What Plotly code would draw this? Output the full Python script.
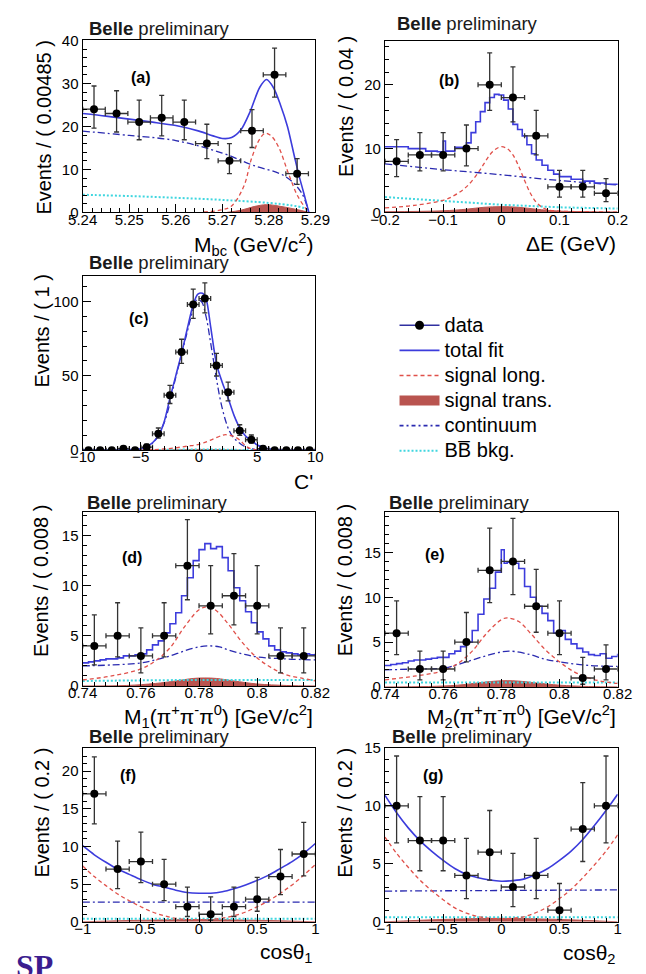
import plotly.graph_objects as go

# ================= DATA =================
# (a) Mbc
A_X = [5.24243, 5.24728, 5.25213, 5.25698, 5.26183, 5.26668, 5.27153, 5.27638, 5.28123, 5.28608]
A_Y = [24, 23, 21, 22, 21, 16, 12, 19, 32, 9]
A_EUP = [5.4, 5.3, 5.1, 5.2, 5.1, 4.5, 4.0, 4.9, 6.2, 3.5]
A_EDN = [4.4, 4.3, 4.1, 4.2, 4.1, 3.5, 3.0, 3.9, 5.2, 2.5]
A_BIN = 0.00485
A_FIT_X = [5.240, 5.245, 5.250, 5.255, 5.260, 5.265, 5.268, 5.270, 5.272, 5.274, 5.276, 5.278, 5.2795, 5.281, 5.2825, 5.284, 5.2855, 5.2865, 5.2875, 5.2886]
A_FIT_Y = [23.0, 22.4, 21.7, 21.0, 20.2, 18.9, 17.8, 17.2, 17.4, 19.2, 23.5, 29.0, 30.9, 29.0, 25.0, 20.0, 13.0, 8.5, 4.5, 0.0]
A_SIGL_X = [5.266, 5.270, 5.272, 5.2746, 5.2763, 5.278, 5.2792, 5.2805, 5.2821, 5.2842, 5.2862, 5.288, 5.2886]
A_SIGL_Y = [0.1, 0.6, 1.5, 6.0, 12.6, 17.0, 18.4, 17.8, 15.2, 9.1, 3.8, 0.8, 0.0]
A_CONT_X = [5.240, 5.250, 5.260, 5.270, 5.2765, 5.2835, 5.287, 5.2886]
A_CONT_Y = [18.9, 17.9, 16.7, 13.8, 11.0, 8.4, 4.6, 0.0]
A_BB_X = [5.240, 5.250, 5.260, 5.270, 5.280, 5.285, 5.2875, 5.2886]
A_BB_Y = [4.1, 3.8, 3.4, 2.9, 2.2, 1.6, 1.0, 0.0]
A_SIGT_X = [5.271, 5.274, 5.277, 5.2795, 5.282, 5.285, 5.2875, 5.2886]
A_SIGT_Y = [0.0, 0.5, 1.4, 1.8, 1.5, 0.9, 0.3, 0.0]

# (b) Delta E
B_X = [-0.18, -0.14, -0.10, -0.06, -0.02, 0.02, 0.06, 0.10, 0.14, 0.18]
B_Y = [8, 9, 9, 10, 20, 18, 12, 4, 4, 3]
B_EUP = [3.4, 3.5, 3.5, 3.7, 5.0, 4.8, 4.0, 2.6, 2.6, 2.3]
B_EDN = [2.4, 2.5, 2.5, 2.7, 4.0, 3.8, 3.0, 1.6, 1.6, 1.3]
B_BIN = 0.04
B_FIT_X = [-0.2, -0.16, -0.13, -0.11, -0.10, -0.096, -0.08, -0.06, -0.052, -0.044, -0.036, -0.028, -0.02, -0.012, -0.004, 0.004, 0.012, 0.02, 0.028, 0.036, 0.044, 0.052, 0.06, 0.07, 0.08, 0.09, 0.10, 0.12, 0.14, 0.16, 0.18, 0.2]
B_FIT_Y = [10.3, 10.0, 9.6, 9.5, 11.2, 9.6, 10.2, 10.9, 12.5, 14.2, 15.8, 17.2, 18.0, 18.5, 18.4, 17.6, 16.2, 13.8, 13.0, 12.0, 10.6, 9.2, 8.2, 7.4, 6.6, 6.0, 5.6, 5.2, 4.9, 4.6, 4.4, 4.3]
B_SIGL_X = [-0.2, -0.15, -0.1, -0.08, -0.06, -0.04, -0.03, -0.02, -0.01, 0.0, 0.01, 0.02, 0.03, 0.04, 0.05, 0.06, 0.07, 0.08, 0.1, 0.15, 0.2]
B_SIGL_Y = [0.7, 1.1, 1.9, 2.7, 4.0, 6.2, 7.6, 9.0, 9.9, 10.3, 10.0, 9.0, 7.2, 5.0, 3.0, 1.6, 0.8, 0.4, 0.2, 0.1, 0.05]
B_CONT_X = [-0.2, -0.1, 0.0, 0.1, 0.2]
B_CONT_Y = [7.6, 6.7, 5.9, 5.0, 4.3]
B_BB_X = [-0.2, -0.15, -0.1, -0.05, 0.0, 0.05, 0.1, 0.15, 0.2]
B_BB_Y = [2.4, 2.1, 1.8, 1.5, 1.2, 1.0, 0.8, 0.7, 0.6]
B_SIGT_X = [-0.2, -0.1, -0.06, -0.03, 0.0, 0.03, 0.06, 0.1, 0.2]
B_SIGT_Y = [0.1, 0.25, 0.5, 0.8, 0.9, 0.8, 0.5, 0.2, 0.05]

# (c) C'
C_X = [-9.5, -8.5, -7.5, -6.5, -5.5, -4.5, -3.5, -2.5, -1.5, -0.5, 0.5, 1.5, 2.5, 3.5, 4.5, 5.5, 6.5, 7.5, 8.5, 9.5]
C_Y = [0, 0, 0, 1, 0, 2, 11, 37, 66, 98, 102, 57, 39, 13, 7, 1, 0, 0, 0, 0]
C_EUP = [1.1, 1.1, 1.1, 1.6, 1.1, 2.0, 3.9, 6.6, 8.6, 10.4, 10.6, 8.1, 6.8, 4.1, 3.2, 1.6, 1.1, 1.1, 1.1, 1.1]
C_EDN = [0, 0, 0, 0.6, 0, 1.0, 2.9, 5.6, 7.6, 9.4, 9.6, 7.1, 5.8, 3.1, 2.2, 0.6, 0, 0, 0, 0]
C_BIN = 1.0
C_FIT_X = [-10, -7, -6, -5, -4.5, -4, -3.5, -3, -2.5, -2, -1.5, -1, -0.5, -0.1, 0.3, 0.6, 1.0, 1.5, 2.0, 2.5, 3.0, 3.5, 4.0, 4.5, 5.0, 5.5, 6, 7, 10]
C_FIT_Y = [0, 0.1, 0.3, 1.0, 2.5, 5.0, 9.5, 19, 35, 50, 65, 82, 98, 105, 105.5, 102, 83, 58, 45.5, 35, 23.6, 15, 9.5, 6.5, 3.5, 2.0, 0.9, 0.2, 0]
C_SIGL_X = [-5, -4, -3, -2, -1, 0, 1, 2, 2.3, 3, 3.5, 4, 4.5, 5, 6]
C_SIGL_Y = [0, 0.3, 0.8, 1.6, 2.7, 3.9, 6.8, 10.0, 10.4, 9.2, 6.8, 3.0, 0.8, 0.2, 0]
C_CONT_X = [-10, -6, -5, -4, -3, -2, -1, -0.5, -0.2, 0.2, 0.6, 1.0, 1.5, 1.8, 2.2, 2.6, 3.0, 3.3, 3.7, 4.2, 5, 6, 10]
C_CONT_Y = [0, 0.3, 1.0, 4.8, 18.5, 49, 80, 95, 101, 100, 90, 72, 48, 35, 22, 13, 8, 6, 3.5, 1.5, 0.3, 0.05, 0]
C_BB_X = [-10, -4, -2, 0, 2, 4, 10]
C_BB_Y = [0, 0.1, 0.3, 0.5, 0.4, 0.1, 0]
C_SIGT_X = [-4, -2, 0, 2, 4]
C_SIGT_Y = [0, 0.2, 0.5, 0.3, 0]

# (d) M1
D_X = [0.744, 0.752, 0.760, 0.768, 0.776, 0.784, 0.792, 0.800, 0.808, 0.816]
D_Y = [4, 5, 3, 5, 12, 8, 9, 8, 3, 3]
D_EUP = [3.1, 3.3, 2.8, 3.3, 4.6, 4.0, 4.2, 4.0, 2.8, 2.8]
D_EDN = [1.9, 2.1, 1.7, 2.1, 3.4, 2.8, 2.9, 2.8, 1.7, 1.7]
D_BIN = 0.008
D_FIT_X = [0.740, 0.742, 0.744, 0.746, 0.748, 0.750, 0.752, 0.754, 0.756, 0.758, 0.760, 0.762, 0.764, 0.766, 0.768, 0.770, 0.772, 0.774, 0.776, 0.778, 0.780, 0.782, 0.784, 0.786, 0.788, 0.790, 0.792, 0.794, 0.796, 0.798, 0.800, 0.802, 0.804, 0.806, 0.808, 0.810, 0.812, 0.814, 0.816, 0.818, 0.820]
D_FIT_Y = [2.3, 2.4, 2.5, 2.6, 2.7, 2.7, 2.8, 3.0, 3.0, 3.1, 3.2, 3.6, 4.1, 4.5, 5.3, 6.2, 7.3, 9.0, 10.8, 12.5, 13.6, 14.2, 13.7, 13.9, 12.8, 11.5, 9.8, 8.5, 7.4, 6.3, 5.4, 4.7, 4.0, 3.6, 3.4, 3.3, 3.2, 3.1, 3.2, 3.1, 3.1]
D_SIGL_X = [0.74, 0.75, 0.76, 0.765, 0.77, 0.775, 0.78, 0.783, 0.786, 0.79, 0.795, 0.80, 0.805, 0.81, 0.815, 0.82]
D_SIGL_Y = [0.6, 1.0, 1.7, 2.5, 3.8, 5.9, 7.6, 7.9, 7.5, 6.2, 4.3, 2.8, 1.8, 1.1, 0.8, 0.5]
D_CONT_X = [0.74, 0.75, 0.76, 0.765, 0.77, 0.775, 0.78, 0.783, 0.787, 0.79, 0.795, 0.80, 0.81, 0.82]
D_CONT_Y = [2.0, 2.1, 2.3, 2.6, 3.0, 3.5, 3.9, 4.0, 3.9, 3.6, 3.2, 2.9, 2.7, 2.6]
D_BB_X = [0.74, 0.78, 0.82]
D_BB_Y = [0.5, 0.6, 0.6]
D_SIGT_X = [0.74, 0.755, 0.765, 0.772, 0.778, 0.782, 0.786, 0.792, 0.80, 0.81, 0.82]
D_SIGT_Y = [0.0, 0.05, 0.25, 0.5, 0.75, 0.8, 0.75, 0.5, 0.2, 0.05, 0.0]

# (e) M2
E_X = [0.744, 0.752, 0.760, 0.768, 0.776, 0.784, 0.792, 0.800, 0.808, 0.816]
E_Y = [6, 2, 2, 5, 13, 14, 9, 6, 1, 2]
E_EUP = [3.6, 2.0, 2.0, 3.3, 4.7, 4.8, 4.1, 3.6, 2.3, 2.7]
E_EDN = [2.4, 1.2, 1.2, 2.2, 3.6, 3.7, 2.9, 2.4, 0.7, 1.2]
E_BIN = 0.008
E_FIT_X = [0.740, 0.742, 0.744, 0.746, 0.748, 0.750, 0.752, 0.754, 0.756, 0.758, 0.760, 0.762, 0.764, 0.766, 0.768, 0.770, 0.772, 0.774, 0.776, 0.778, 0.780, 0.781, 0.782, 0.784, 0.786, 0.788, 0.790, 0.792, 0.794, 0.796, 0.798, 0.800, 0.802, 0.804, 0.806, 0.808, 0.810, 0.812, 0.814, 0.816, 0.818, 0.820]
E_FIT_Y = [2.4, 2.5, 2.6, 2.7, 2.9, 3.0, 3.0, 3.1, 3.2, 3.3, 3.3, 3.7, 4.0, 4.5, 5.0, 6.3, 8.1, 9.8, 11.0, 12.8, 15.3, 13.8, 13.9, 13.8, 13.2, 11.2, 10.0, 9.0, 8.2, 7.4, 6.0, 6.3, 5.3, 4.8, 4.3, 3.9, 3.6, 3.5, 3.7, 3.2, 3.4, 3.7]
E_SIGL_X = [0.74, 0.75, 0.76, 0.765, 0.77, 0.775, 0.78, 0.782, 0.786, 0.79, 0.795, 0.80, 0.805, 0.81, 0.815, 0.82]
E_SIGL_Y = [0.8, 1.2, 1.8, 2.6, 4.0, 6.0, 7.5, 7.7, 7.3, 6.0, 4.2, 2.8, 1.7, 1.0, 0.6, 0.4]
E_CONT_X = [0.74, 0.75, 0.76, 0.765, 0.77, 0.775, 0.78, 0.783, 0.79, 0.795, 0.80, 0.81, 0.82]
E_CONT_Y = [1.9, 2.0, 2.1, 2.5, 3.0, 3.5, 3.9, 4.0, 3.6, 3.1, 2.8, 2.4, 2.3]
E_BB_X = [0.74, 0.78, 0.82]
E_BB_Y = [0.5, 0.5, 0.5]
E_SIGT_X = [0.74, 0.755, 0.765, 0.772, 0.778, 0.782, 0.786, 0.792, 0.80, 0.81, 0.82]
E_SIGT_Y = [0.0, 0.05, 0.2, 0.45, 0.65, 0.7, 0.65, 0.45, 0.2, 0.05, 0.0]

# (f) cos theta 1
F_X = [-0.9, -0.7, -0.5, -0.3, -0.1, 0.1, 0.3, 0.5, 0.7, 0.9]
F_Y = [17, 7, 8, 5, 2, 1, 2, 3, 6, 9]
F_EUP = [4.9, 3.7, 3.9, 3.3, 2.6, 2.3, 2.6, 2.9, 3.6, 4.2]
F_EDN = [4.0, 2.6, 2.8, 2.2, 1.3, 0.8, 1.3, 1.6, 2.4, 2.9]
F_BIN = 0.2
COS_X = [-1, -0.9, -0.8, -0.7, -0.6, -0.5, -0.4, -0.3, -0.2, -0.1, 0, 0.1, 0.2, 0.3, 0.4, 0.5, 0.6, 0.7, 0.8, 0.9, 1]
F_FIT_Y = [10.1, 8.9, 7.9, 7.0, 6.3, 5.6, 5.0, 4.6, 4.2, 3.9, 3.8, 3.8, 4.0, 4.4, 4.9, 5.5, 6.2, 7.1, 8.0, 9.1, 10.4]
F_SIGL_Y = [7.4, 6.0, 4.8, 3.7, 2.8, 2.0, 1.3, 0.8, 0.45, 0.3, 0.25, 0.3, 0.5, 0.8, 1.3, 2.0, 2.8, 3.8, 4.9, 6.2, 7.6]
F_FLAT_X = [-1, 0, 1]
F_CONT_Y = [2.6, 2.6, 2.6]
F_BB_Y = [0.4, 0.4, 0.4]
F_SIGT_X = [-1, -0.5, 0, 0.5, 1]
F_SIGT_Y = [0.0, 0.2, 0.3, 0.2, 0.0]

# (g) cos theta 2
G_X = [-0.9, -0.7, -0.5, -0.3, -0.1, 0.1, 0.3, 0.5, 0.7, 0.9]
G_Y = [10, 7, 7, 4, 6, 3, 4, 1, 8, 10]
G_EUP = [4.3, 3.8, 3.8, 3.2, 3.6, 2.9, 3.2, 2.3, 4.0, 4.3]
G_EDN = [3.2, 2.6, 2.6, 2.0, 2.4, 1.7, 2.0, 0.8, 2.8, 3.2]
G_BIN = 0.2
G_FIT_Y = [10.9, 9.4, 8.1, 7.0, 6.1, 5.3, 4.6, 4.1, 3.8, 3.6, 3.5, 3.55, 3.7, 4.1, 4.6, 5.3, 6.1, 7.1, 8.3, 9.6, 11.0]
G_SIGL_Y = [7.3, 5.9, 4.7, 3.6, 2.7, 1.9, 1.2, 0.75, 0.45, 0.3, 0.25, 0.3, 0.45, 0.8, 1.3, 2.0, 2.8, 3.8, 4.9, 6.1, 7.5]
G_CONT_Y = [2.65, 2.7, 2.75]
G_BB_Y = [0.4, 0.4, 0.4]
G_SIGT_Y = [0.0, 0.2, 0.3, 0.2, 0.0]

# texts
Y_TITLES = ["Events / ( 0.00485 )", "Events / ( 0.04 )", "Events / ( 1 )", "Events / ( 0.008 )",
            "Events / ( 0.008 )", "Events / ( 0.2 )", "Events / ( 0.2 )"]
X_TITLES = ["M<sub>bc</sub> (GeV/c<sup>2</sup>)", "ΔE (GeV)", "C'",
            "M<sub>1</sub>(π<sup>+</sup>π<sup>-</sup>π<sup>0</sup>) [GeV/c<sup>2</sup>]",
            "M<sub>2</sub>(π<sup>+</sup>π<sup>-</sup>π<sup>0</sup>) [GeV/c<sup>2</sup>]",
            "cosθ<sub>1</sub>", "cosθ<sub>2</sub>"]
LABELS = ["(a)", "(b)", "(c)", "(d)", "(e)", "(f)", "(g)"]
LEGEND_NAMES = ["data", "total fit", "signal long.", "signal trans.", "continuum", "BB\u0305 bkg."]

# ================= FIGURE =================
W, H = 646, 974
C_FIT = "#3c3cdc"
C_SIGL = "#e0504a"
C_SIGT = "#b9544f"
C_CONT = "#2a2ab0"
C_BB = "#3fd6df"
FONT = "Liberation Sans, Arial, sans-serif"

panels = [
    dict(x=A_X, y=A_Y, eu=A_EUP, ed=A_EDN, bw=A_BIN, fit=(A_FIT_X, A_FIT_Y, "spline"),
         sigl=(A_SIGL_X, A_SIGL_Y), cont=(A_CONT_X, A_CONT_Y), bb=(A_BB_X, A_BB_Y), sigt=(A_SIGT_X, A_SIGT_Y)),
    dict(x=B_X, y=B_Y, eu=B_EUP, ed=B_EDN, bw=B_BIN, fit=(B_FIT_X, B_FIT_Y, "hv"),
         sigl=(B_SIGL_X, B_SIGL_Y), cont=(B_CONT_X, B_CONT_Y), bb=(B_BB_X, B_BB_Y), sigt=(B_SIGT_X, B_SIGT_Y)),
    dict(x=C_X, y=C_Y, eu=C_EUP, ed=C_EDN, bw=C_BIN, fit=(C_FIT_X, C_FIT_Y, "spline"),
         sigl=(C_SIGL_X, C_SIGL_Y), cont=(C_CONT_X, C_CONT_Y), bb=(C_BB_X, C_BB_Y), sigt=(C_SIGT_X, C_SIGT_Y)),
    dict(x=D_X, y=D_Y, eu=D_EUP, ed=D_EDN, bw=D_BIN, fit=(D_FIT_X, D_FIT_Y, "hv"),
         sigl=(D_SIGL_X, D_SIGL_Y), cont=(D_CONT_X, D_CONT_Y), bb=(D_BB_X, D_BB_Y), sigt=(D_SIGT_X, D_SIGT_Y)),
    dict(x=E_X, y=E_Y, eu=E_EUP, ed=E_EDN, bw=E_BIN, fit=(E_FIT_X, E_FIT_Y, "hv"),
         sigl=(E_SIGL_X, E_SIGL_Y), cont=(E_CONT_X, E_CONT_Y), bb=(E_BB_X, E_BB_Y), sigt=(E_SIGT_X, E_SIGT_Y)),
    dict(x=F_X, y=F_Y, eu=F_EUP, ed=F_EDN, bw=F_BIN, fit=(COS_X, F_FIT_Y, "spline"),
         sigl=(COS_X, F_SIGL_Y), cont=(F_FLAT_X, F_CONT_Y), bb=(F_FLAT_X, F_BB_Y), sigt=(F_SIGT_X, F_SIGT_Y)),
    dict(x=G_X, y=G_Y, eu=G_EUP, ed=G_EDN, bw=G_BIN, fit=(COS_X, G_FIT_Y, "spline"),
         sigl=(COS_X, G_SIGL_Y), cont=(F_FLAT_X, G_CONT_Y), bb=(F_FLAT_X, G_BB_Y), sigt=(F_SIGT_X, G_SIGT_Y)),
]

# frame pixel boxes (left, right, top, bottom)
boxes = [(71, 315, 32, 207), (388, 632, 33, 207), (71, 315, 272, 449),
         (71, 315, 512, 689), (388, 632, 512, 690), (71, 315, 752, 929), (388, 632, 752, 929)]
xranges = [[5.24, 5.29], [-0.2, 0.2], [-10, 10], [0.74, 0.82], [0.74, 0.82], [-1, 1], [-1, 1]]
yranges = [[0, 40], [0, 26.8], [0, 117], [0, 17.35], [0, 19.5], [0, 23.1], [0, 15]]
xdt = [(0.01, 0.002), (0.1, 0.02), (5, 1), (0.02, 0.004), (0.02, 0.004), (0.5, 0.1), (0.5, 0.1)]
ydt = [(10, 2), (10, 2), (50, 10), (5, 1), (5, 1), (5, 1), (5, 1)]
ytitle_x = [30, 347, 28, 28, 346, 28, 346]
ytitle_top = [29, 25, 268, 503, 502, 750, 750]
xtitle_y = [240, 239, 481, 720, 720, 961, 962]
belle_pos = [(76, 20), (399, 15), (76, 258), (73, 502), (390, 502), (76, 740), (393, 740)]
label_pos = [(132, 70), (455, 73), (130, 315), (123, 558), (440, 555), (118, 780), (438, 780)]

fig = go.Figure()
layout = dict(width=W, height=H, margin=dict(l=0, r=0, t=0, b=0),
              paper_bgcolor="white", plot_bgcolor="white",
              font=dict(family=FONT, color="black"), showlegend=True)
annotations = []


def px2x(p):
    return p / W


def px2y(p):
    return 1 - p / H


for i, p in enumerate(panels):
    n = i + 1
    xa = "x" if n == 1 else f"x{n}"
    ya = "y" if n == 1 else f"y{n}"
    l, r, t, b = boxes[i]
    common = dict(xaxis=xa, yaxis=ya, showlegend=False, hoverinfo="skip")
    sx, sy = p["sigt"]
    fig.add_trace(go.Scatter(x=sx, y=sy, mode="lines", fill="tozeroy", fillcolor=C_SIGT,
                             line=dict(color=C_SIGT, width=1, shape="spline"), **common))
    bx, by = p["bb"]
    fig.add_trace(go.Scatter(x=bx, y=by, mode="lines",
                             line=dict(color=C_BB, width=2, dash="2px,2px", shape="spline"), **common))
    cx, cy = p["cont"]
    fig.add_trace(go.Scatter(x=cx, y=cy, mode="lines",
                             line=dict(color=C_CONT, width=1.3, dash="7px,3px,2px,3px", shape="spline"), **common))
    lx, ly = p["sigl"]
    fig.add_trace(go.Scatter(x=lx, y=ly, mode="lines",
                             line=dict(color=C_SIGL, width=1.3, dash="4px,3px", shape="spline"), **common))
    fx, fy, shp = p["fit"]
    fig.add_trace(go.Scatter(x=fx, y=fy, mode="lines",
                             line=dict(color=C_FIT, width=1.6, shape=shp,
                                       **({"smoothing": 0.8} if shp == "spline" else {})), **common))
    fig.add_trace(go.Scatter(x=p["x"], y=p["y"], mode="markers",
                             marker=dict(color="black", size=8),
                             error_y=dict(type="data", symmetric=False, array=p["eu"], arrayminus=p["ed"],
                                          color="#333333", thickness=1.3, width=2.5),
                             error_x=dict(type="constant", value=p["bw"] / 2,
                                          color="#333333", thickness=1.3, width=2.5), **common))

    axkey = "xaxis" if n == 1 else f"xaxis{n}"
    aykey = "yaxis" if n == 1 else f"yaxis{n}"
    layout[axkey] = dict(domain=[px2x(l), px2x(r)], anchor=ya, range=xranges[i],
                         showline=True, linecolor="black", linewidth=1.3, mirror=True,
                         ticks="inside", ticklen=8, tickwidth=1, tickcolor="black",
                         dtick=xdt[i][0], tick0=xranges[i][0], ticklabelstandoff=-7,
                         minor=dict(ticks="inside", ticklen=4, dtick=xdt[i][1], tickcolor="black"),
                         showgrid=False, zeroline=False, tickfont=dict(size=15, family=FONT))
    layout[aykey] = dict(domain=[px2y(b), px2y(t)], anchor=xa, range=yranges[i],
                         showline=True, linecolor="black", linewidth=1.3, mirror=True,
                         ticks="inside", ticklen=8, tickwidth=1, tickcolor="black",
                         dtick=ydt[i][0], tick0=0,
                         minor=dict(ticks="inside", ticklen=4, dtick=ydt[i][1], tickcolor="black"),
                         showgrid=False, zeroline=False, tickfont=dict(size=15, family=FONT))
    annotations.append(dict(text=Y_TITLES[i], xref="paper", yref="paper",
                            x=px2x(ytitle_x[i]), y=px2y(ytitle_top[i]), xanchor="center", yanchor="top",
                            textangle=-90, showarrow=False, font=dict(size=20, family=FONT)))
    annotations.append(dict(text=X_TITLES[i], xref="paper", yref="paper",
                            x=px2x(r), y=px2y(xtitle_y[i]), xanchor="right", yanchor="middle",
                            showarrow=False, font=dict(size=21, family=FONT)))
    annotations.append(dict(text="<b>Belle</b> preliminary", xref="paper", yref="paper",
                            x=px2x(belle_pos[i][0]), y=px2y(belle_pos[i][1]), xanchor="left", yanchor="middle",
                            showarrow=False, font=dict(size=18.5, family=FONT, color="#1a1a1a")))
    annotations.append(dict(text=f"<b>{LABELS[i]}</b>", xref="paper", yref="paper",
                            x=px2x(label_pos[i][0]), y=px2y(label_pos[i][1]), xanchor="center", yanchor="middle",
                            showarrow=False, font=dict(size=16, family=FONT)))

annotations.append(dict(text="<b>SP</b>", xref="paper", yref="paper", x=px2x(-1), y=px2y(954),
                        xanchor="left", yanchor="top", showarrow=False,
                        font=dict(size=32, family="Liberation Serif, DejaVu Serif, serif", color="#3b1d8f")))

# legend entries (legend-only traces)
leg = dict(x=[None], y=[None], xaxis="x", yaxis="y", hoverinfo="skip")


def lname(s):
    return f'<span style="font-size:20px">{s}</span>'


fig.add_trace(go.Scatter(name=lname(LEGEND_NAMES[0]), mode="lines+markers", line=dict(color="#3030a0", width=1.3),
                         marker=dict(color="black", size=9), **leg))
fig.add_trace(go.Scatter(name=lname(LEGEND_NAMES[1]), mode="lines", line=dict(color=C_FIT, width=1.8), **leg))
fig.add_trace(go.Scatter(name=lname(LEGEND_NAMES[2]), mode="lines",
                         line=dict(color=C_SIGL, width=1.6, dash="4px,3px"), **leg))
fig.add_trace(go.Scatter(name=lname(LEGEND_NAMES[3]), mode="lines", line=dict(color=C_SIGT, width=15), **leg))
fig.add_trace(go.Scatter(name=lname(LEGEND_NAMES[4]), mode="lines",
                         line=dict(color=C_CONT, width=1.6, dash="4px,3px,2px,3px"), **leg))
fig.add_trace(go.Scatter(name=lname(LEGEND_NAMES[5]), mode="lines",
                         line=dict(color=C_BB, width=2, dash="2px,2px"), **leg))

layout["legend"] = dict(x=px2x(398), y=px2y(304), xanchor="left", yanchor="top",
                        font=dict(size=17, family=FONT), bgcolor="rgba(0,0,0,0)",
                        tracegroupgap=0, itemwidth=40)
layout["annotations"] = annotations
fig.update_layout(**layout)
fig.write_html("out.html")
